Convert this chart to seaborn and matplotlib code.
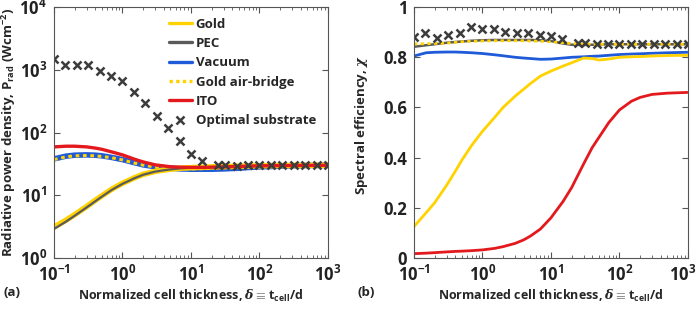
import numpy as np
import pandas as pd
import matplotlib
matplotlib.use("Agg")
import matplotlib.pyplot as plt
import seaborn as sns
from matplotlib.lines import Line2D
from matplotlib.transforms import ScaledTranslation
from matplotlib.ticker import LogLocator, NullLocator, NullFormatter

# thickness grid for the curves
delta = [0.1, 0.15, 0.2, 0.3, 0.4, 0.5, 0.7, 1, 1.5, 2, 3, 4, 5, 7, 10, 15,
         20, 30, 40, 50, 70, 100, 150, 200, 300, 500, 1000]

# (a) radiative power density, W/cm^2
prad_gold = [3.1, 4.0, 4.9, 6.6, 8.3, 9.8, 12.5, 15.5, 19, 21.5, 24, 25.2,
             26, 27, 27.5, 28, 28.3, 28.6, 28.8, 29, 29.2, 29.4, 29.6, 29.7,
             29.8, 29.9, 30]
prad_pec = [2.9, 3.8, 4.7, 6.4, 8.0, 9.5, 12.2, 15.2, 18.7, 21.2, 23.8, 25.0,
            25.8, 26.8, 27.4, 27.9, 28.2, 28.5, 28.8, 29, 29.2, 29.4, 29.6,
            29.7, 29.8, 29.9, 30]
prad_vac = [38, 42, 43.5, 44, 43.5, 42.5, 40, 37, 33, 30.5, 28.5, 27.6, 27,
            26.3, 26, 26, 26, 26.3, 26.7, 27, 27.7, 28.3, 28.7, 29, 29.5,
            29.8, 30]
prad_bridge = [37, 41, 42.5, 43, 42.5, 41.5, 39.5, 36.5, 32.5, 30.2, 28.3,
               27.5, 27, 26.5, 26.3, 26.5, 26.8, 27.3, 27.7, 28, 28.5, 29,
               29.3, 29.5, 29.7, 29.9, 30]
prad_ito = [59, 60.5, 60.5, 59, 56.5, 54, 49, 44, 37.5, 34, 30.5, 29.3, 28.5,
            28, 27.8, 27.8, 28, 28.3, 28.6, 28.8, 29.1, 29.4, 29.6, 29.7,
            29.8, 29.9, 30]

# (b) spectral efficiency
chi_gold = [0.125, 0.18, 0.22, 0.29, 0.345, 0.39, 0.45, 0.505, 0.56, 0.60,
            0.645, 0.673, 0.695, 0.725, 0.745, 0.765, 0.778, 0.797, 0.795,
            0.789, 0.793, 0.80, 0.802, 0.803, 0.805, 0.807, 0.808]
chi_pec = [0.842, 0.848, 0.852, 0.858, 0.861, 0.863, 0.866, 0.868, 0.869,
           0.869, 0.869, 0.869, 0.869, 0.868, 0.865, 0.855, 0.85, 0.849,
           0.850, 0.851, 0.852, 0.852, 0.852, 0.852, 0.852, 0.852, 0.852]
chi_bridge = [0.853, 0.854, 0.855, 0.856, 0.860, 0.862, 0.864, 0.865, 0.866,
              0.866, 0.866, 0.866, 0.865, 0.864, 0.862, 0.858, 0.855, 0.853,
              0.852, 0.852, 0.852, 0.852, 0.852, 0.852, 0.852, 0.852, 0.852]
chi_vac = [0.805, 0.818, 0.82, 0.821, 0.821, 0.82, 0.818, 0.815, 0.81, 0.806,
           0.80, 0.797, 0.795, 0.792, 0.793, 0.797, 0.80, 0.802, 0.804,
           0.805, 0.808, 0.811, 0.813, 0.814, 0.816, 0.818, 0.82]
chi_ito = [0.017, 0.019, 0.021, 0.024, 0.026, 0.027, 0.029, 0.032, 0.038,
           0.045, 0.058, 0.072, 0.087, 0.115, 0.16, 0.225, 0.28, 0.375, 0.44,
           0.48, 0.54, 0.59, 0.625, 0.64, 0.652, 0.657, 0.66]

# optimal substrate markers
delta_opt = [0.1, 0.147, 0.215, 0.316, 0.464, 0.681, 1, 1.47, 2.15, 3.16,
             4.64, 6.81, 10, 14.7, 25, 31.6, 46.4, 68.1, 100, 147, 215, 316,
             464, 681, 1000]
prad_opt = [1500, 1200, 1200, 1200, 965, 795, 670, 447, 295, 185, 118, 73,
            45.5, 35.5, 30, 30, 29.5, 30, 30, 30, 30, 30, 30, 30, 30]
chi_opt = [0.882, 0.898, 0.878, 0.890, 0.898, 0.920, 0.914, 0.914, 0.902,
           0.898, 0.895, 0.890, 0.884, 0.871, 0.858, 0.858, 0.851, 0.851,
           0.851, 0.851, 0.851, 0.851, 0.851, 0.851, 0.851]

x_ticks = [0.1, 1, 10, 100, 1000]
prad_ticks = [1, 10, 100, 1000, 10000]
chi_ticks = [0, 0.2, 0.4, 0.6, 0.8, 1]
chi_ticklabels = ["0", "0.2", "0.4", "0.6", "0.8", "1"]

GOLD = "#FFD200"
GRAY = "#5a5a5a"
BLUE = "#1f5ad8"
RED = "#e3191e"
MARK = "#3c3c3c"

sns.set_style("ticks")
plt.rcParams["font.family"] = ["Open Sans", "DejaVu Sans"]
plt.rcParams["font.weight"] = "bold"
plt.rcParams["axes.labelweight"] = "bold"
plt.rcParams["font.size"] = 9.5
plt.rcParams["mathtext.fontset"] = "custom"
plt.rcParams["mathtext.rm"] = "Open Sans:bold"
plt.rcParams["mathtext.it"] = "DejaVu Serif:italic"
plt.rcParams["mathtext.bf"] = "Open Sans:bold"
plt.rcParams["axes.edgecolor"] = "#555555"
plt.rcParams["axes.linewidth"] = 0.8
plt.rcParams["xtick.color"] = "#555555"
plt.rcParams["ytick.color"] = "#555555"
plt.rcParams["xtick.labelcolor"] = "#222222"
plt.rcParams["ytick.labelcolor"] = "#222222"

fig = plt.figure(figsize=(6.97, 3.10), dpi=100)
ax1 = fig.add_axes([0.0775, 0.168, 0.393, 0.809])
ax2 = fig.add_axes([0.594, 0.168, 0.393, 0.809])


def line(ax, y, color, lw, ls="-"):
    sns.lineplot(x=delta, y=y, ax=ax, color=color, linewidth=lw,
                 linestyle=ls, solid_capstyle="butt")


# panel (a)
line(ax1, prad_vac, BLUE, 4.0)
line(ax1, prad_bridge, GOLD, 2.2, (0, (1.2, 1.2)))
line(ax1, prad_gold, GOLD, 4.0)
line(ax1, prad_pec, GRAY, 1.6)
line(ax1, prad_ito, RED, 2.4)
ax1.plot(delta_opt, prad_opt, ls="none", marker="x", ms=6, mew=1.8,
         color=MARK)

# panel (b)
line(ax2, chi_pec, GRAY, 1.8)
line(ax2, chi_bridge, GOLD, 2.0, (0, (1.2, 1.2)))
line(ax2, chi_vac, BLUE, 2.0)
line(ax2, chi_gold, GOLD, 2.0)
line(ax2, chi_ito, RED, 2.0)
ax2.plot(delta_opt, chi_opt, ls="none", marker="x", ms=6, mew=1.8,
         color=MARK)

for ax in (ax1, ax2):
    ax.set_xscale("log")
    ax.set_xlim(0.1, 1000)
    ax.set_xticks(x_ticks)
    ax.xaxis.set_minor_locator(LogLocator(base=10, subs=np.arange(2, 10),
                                          numticks=20))
    ax.xaxis.set_minor_formatter(NullFormatter())
    ax.tick_params(which="both", direction="in", top=True, right=True)
    ax.tick_params(which="major", length=4, labelsize=12, pad=5)
    ax.tick_params(which="minor", length=2)
    ax.set_xlabel(r"Normalized cell thickness, $\delta\equiv$t$_{\mathrm{cell}}$/d",
                  fontsize=9, labelpad=2)
    for s in ax.spines.values():
        s.set_visible(True)

ax1.set_yscale("log")
ax1.set_ylim(1, 1e4)
ax1.set_yticks(prad_ticks)
ax1.yaxis.set_minor_locator(NullLocator())
ax1.set_ylabel(r"Radiative power density, P$_{\mathrm{rad}}$ (Wcm$^{-2}$)",
               fontsize=9.5, labelpad=1)

ax2.set_ylim(0, 1)
ax2.set_yticks(chi_ticks)
ax2.set_yticklabels(chi_ticklabels)
ax2.set_ylabel(r"Spectral efficiency, $\chi$", fontsize=9.5)
ax2.yaxis.set_label_coords(-0.16, 0.53)

handles = [
    Line2D([], [], color=GOLD, lw=2.4),
    Line2D([], [], color=GRAY, lw=2.4),
    Line2D([], [], color=BLUE, lw=2.4),
    Line2D([], [], color=GOLD, lw=2.4, ls=(0, (1.0, 1.0))),
    Line2D([], [], color=RED, lw=2.4),
    Line2D([], [], ls="none", marker="x", ms=6, mew=1.8, color=MARK),
]
labels = ["Gold", "PEC", "Vacuum", "Gold air-bridge", "ITO",
          "Optimal substrate"]
ax1.legend(handles, labels, loc="upper right", frameon=False, fontsize=9.5,
           handlelength=1.8, handletextpad=0.25, labelspacing=0.48,
           borderaxespad=0.3, bbox_to_anchor=(0.99, 0.995))

fig.text(0.005, 0.058, "(a)", fontsize=9.5, va="center")
fig.text(0.513, 0.058, "(b)", fontsize=9.5, va="center")

# keep the last tick label of (b) inside the canvas
fig.canvas.draw()
last = ax2.get_xticklabels()[-1]
last.set_transform(last.get_transform()
                   + ScaledTranslation(-4 / 72, 0, fig.dpi_scale_trans))

fig.savefig("out.png", dpi=100)
